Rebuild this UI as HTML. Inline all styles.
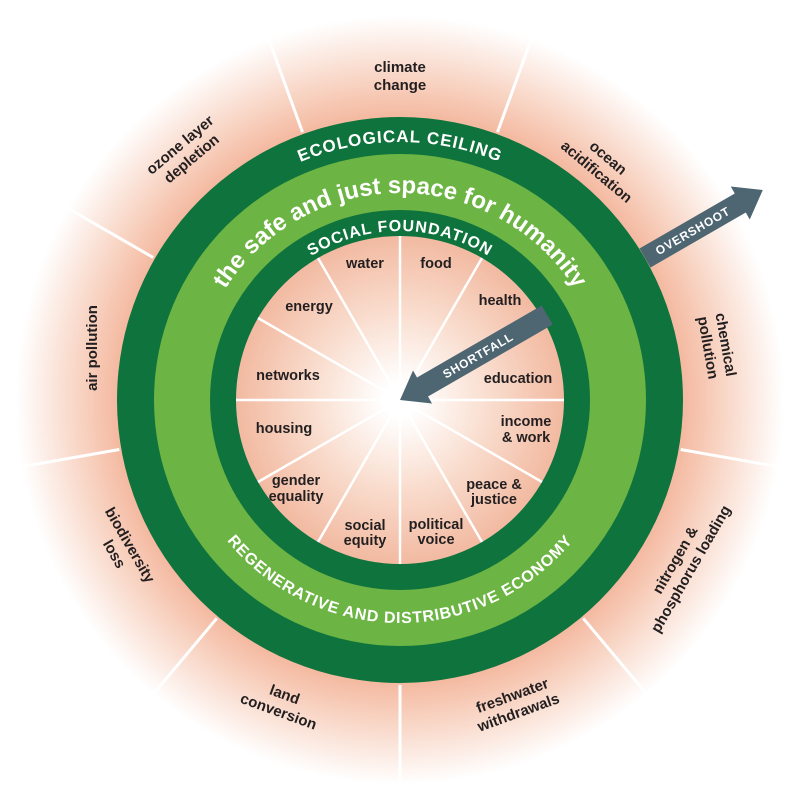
<!DOCTYPE html>
<html><head><meta charset="utf-8"><style>
html,body{margin:0;padding:0;background:#fff;}
svg{display:block;}
.o{font-family:"Liberation Sans",sans-serif;font-weight:bold;font-size:15px;fill:#231f20;}
.i{font-family:"Liberation Sans",sans-serif;font-weight:bold;font-size:14.5px;fill:#231f20;}
.w{font-family:"Liberation Sans",sans-serif;font-weight:bold;fill:#fff;}
</style></head><body>
<svg width="800" height="800" viewBox="0 0 800 800" xmlns="http://www.w3.org/2000/svg">
<defs>
<radialGradient id="bg" cx="400" cy="400" r="400" gradientUnits="userSpaceOnUse">
<stop offset="0.68" stop-color="#f3b196"/>
<stop offset="0.8" stop-color="#f8d3c2"/>
<stop offset="0.96" stop-color="#ffffff"/>
</radialGradient>
<radialGradient id="inn" cx="400" cy="400" r="165" gradientUnits="userSpaceOnUse">
<stop offset="0.1" stop-color="#ffffff"/>
<stop offset="0.55" stop-color="#f9dccd"/>
<stop offset="1" stop-color="#f2b9a0"/>
</radialGradient>
<path id="pEco" d="M142,400 A258,258 0 0 1 658,400"/>
<path id="pSafe" d="M193,400 A207,207 0 0 1 607,400"/>
<path id="pSoc" d="M231,400 A169,169 0 0 1 569,400"/>
<path id="pReg" d="M177,400 A223,223 0 0 0 623,400"/>
</defs>
<rect width="800" height="800" fill="#fff"/>
<circle cx="400" cy="400" r="400" fill="url(#bg)"/>
<g stroke="#fff" stroke-width="3">
<line x1="400" y1="115" x2="400" y2="18" transform="rotate(20 400 400)"/>
<line x1="400" y1="115" x2="400" y2="18" transform="rotate(60 400 400)"/>
<line x1="400" y1="115" x2="400" y2="18" transform="rotate(100 400 400)"/>
<line x1="400" y1="115" x2="400" y2="18" transform="rotate(140 400 400)"/>
<line x1="400" y1="115" x2="400" y2="18" transform="rotate(180 400 400)"/>
<line x1="400" y1="115" x2="400" y2="18" transform="rotate(220 400 400)"/>
<line x1="400" y1="115" x2="400" y2="18" transform="rotate(260 400 400)"/>
<line x1="400" y1="115" x2="400" y2="18" transform="rotate(300 400 400)"/>
<line x1="400" y1="115" x2="400" y2="18" transform="rotate(340 400 400)"/>
</g>
<circle cx="400" cy="400" r="283" fill="#0f733d"/>
<circle cx="400" cy="400" r="246" fill="#6cb443"/>
<circle cx="400" cy="400" r="190" fill="#0f733d"/>
<circle cx="400" cy="400" r="164" fill="url(#inn)"/>
<g stroke="#fff" stroke-width="2.5">
<line x1="400" y1="236" x2="400" y2="564"/>
<line x1="236" y1="400" x2="564" y2="400"/>
<line x1="400" y1="236" x2="400" y2="564" transform="rotate(30 400 400)"/>
<line x1="400" y1="236" x2="400" y2="564" transform="rotate(60 400 400)"/>
<line x1="400" y1="236" x2="400" y2="564" transform="rotate(120 400 400)"/>
<line x1="400" y1="236" x2="400" y2="564" transform="rotate(150 400 400)"/>
</g>
<text class="w" font-size="17" letter-spacing="1"><textPath href="#pEco" startOffset="50%" text-anchor="middle">ECOLOGICAL CEILING</textPath></text>
<text class="w" font-size="24"><textPath href="#pSafe" startOffset="50%" text-anchor="middle">the safe and just space for humanity</textPath></text>
<text class="w" font-size="16" letter-spacing="1"><textPath href="#pSoc" startOffset="50%" text-anchor="middle">SOCIAL FOUNDATION</textPath></text>
<text class="w" font-size="16" letter-spacing="0.8"><textPath href="#pReg" startOffset="50%" text-anchor="middle">REGENERATIVE AND DISTRIBUTIVE ECONOMY</textPath></text>
<g class="i" text-anchor="middle">
<text x="365" y="268">water</text>
<text x="436" y="268">food</text>
<text x="500" y="305">health</text>
<text x="309" y="311">energy</text>
<text x="288" y="380">networks</text>
<text x="518" y="383">education</text>
<text x="284" y="433">housing</text>
<text x="526" y="426">income</text>
<text x="526" y="442">&amp; work</text>
<text x="296" y="485">gender</text>
<text x="296" y="501">equality</text>
<text x="494" y="489">peace &amp;</text>
<text x="494" y="504">justice</text>
<text x="365" y="530">social</text>
<text x="365" y="545">equity</text>
<text x="436" y="529">political</text>
<text x="436" y="544">voice</text>
</g>
<g class="o" text-anchor="middle">
<text x="400" y="72">climate</text>
<text x="400" y="90">change</text>
<g transform="translate(603,164) rotate(40)"><text y="-3">ocean</text><text y="15">acidification</text></g>
<g transform="translate(718,346) rotate(80)"><text y="-3">chemical</text><text y="15">pollution</text></g>
<g transform="translate(682,564) rotate(-60)"><text y="-3">nitrogen &amp;</text><text y="15">phosphorus loading</text></g>
<g transform="translate(515,703) rotate(-20)"><text y="-3">freshwater</text><text y="15">withdrawals</text></g>
<g transform="translate(282,702) rotate(20)"><text y="-3">land</text><text y="15">conversion</text></g>
<g transform="translate(123,549) rotate(60)"><text y="-3">biodiversity</text><text y="15">loss</text></g>
<g transform="translate(92,348) rotate(-90)"><text y="5">air pollution</text></g>
<g transform="translate(185,151) rotate(-40)"><text y="-3">ozone layer</text><text y="15">depletion</text></g>
</g>
<g transform="translate(645,258) rotate(-30)">
<polygon points="0,-11 110,-11 110,-19 136,0 110,19 110,11 0,11" fill="#4e6572"/>
<text class="w" font-size="12" letter-spacing="0.8" x="55" y="4.5" text-anchor="middle">OVERSHOOT</text>
</g>
<g transform="translate(400,400) rotate(-30)">
<polygon points="0,0 26,-19 26,-11 170,-11 170,11 26,11 26,19" fill="#4e6572"/>
<text class="w" font-size="12" letter-spacing="0.8" x="90" y="4.5" text-anchor="middle">SHORTFALL</text>
</g>
</svg>
</body></html>
